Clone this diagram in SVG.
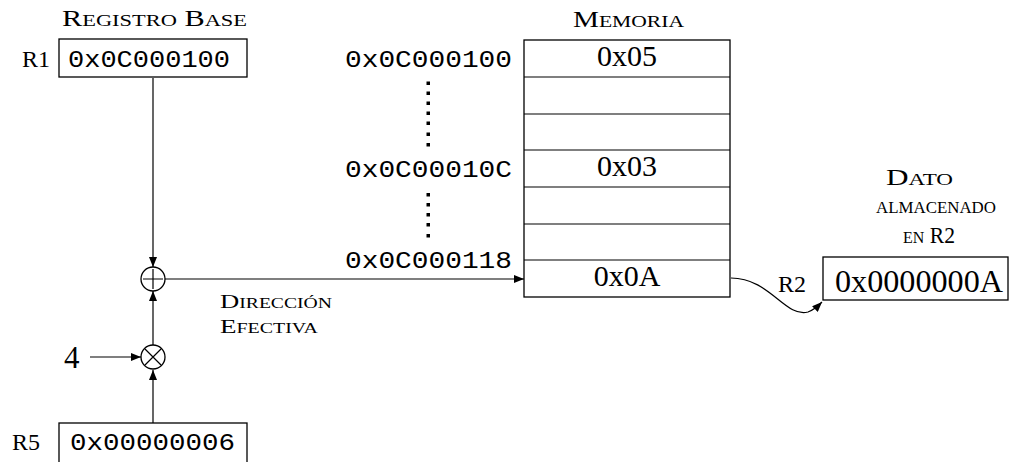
<svg xmlns="http://www.w3.org/2000/svg" width="1010" height="462" viewBox="0 0 1010 462">
<style>
.sc{font-family:"Liberation Serif",serif;fill:#000}
.rm{font-family:"Liberation Serif",serif;fill:#000}
.tt{font-family:"Liberation Mono",monospace;fill:#000}
.box{fill:#fff;stroke:#000;stroke-width:1.3}
.ln{fill:none;stroke:#000;stroke-width:1.2}
.dot{fill:#000}
.bg{font-size:23px}
.sm{font-size:17px}
.bg2{font-size:19px}
.sm2{font-size:14px}
</style>
<defs>
<marker id="ah" viewBox="0 0 10 8" refX="10" refY="4" markerWidth="10" markerHeight="8" markerUnits="userSpaceOnUse" orient="auto">
<path d="M0,0 L10,4 L0,8 Z" fill="#000"/>
</marker>
</defs>
<g id="connectors">
<line class="ln" x1="153" y1="78" x2="153" y2="267" marker-end="url(#ah)"/>
<line class="ln" x1="153" y1="345" x2="153" y2="291" marker-end="url(#ah)"/>
<line class="ln" x1="153" y1="423" x2="153" y2="370" marker-end="url(#ah)"/>
<line class="ln" x1="90" y1="357" x2="141" y2="357" marker-end="url(#ah)"/>
<line class="ln" x1="165" y1="279" x2="524" y2="279" marker-end="url(#ah)"/>
<path class="ln" d="M731,278 C770,278 785,318 808,312 C814,310 818,306 822,302" marker-end="url(#ah)"/>
</g>
<g id="r1">
<text class="sc" x="62" y="26" textLength="185" lengthAdjust="spacingAndGlyphs"><tspan class="bg">R</tspan><tspan class="sm">EGISTRO</tspan><tspan class="bg"> B</tspan><tspan class="sm">ASE</tspan></text>
<text class="rm" x="22" y="67" font-size="24">R1</text>
<rect class="box" x="59" y="39" width="188" height="38"/>
<text class="tt" x="68" y="67" font-size="24" textLength="162" lengthAdjust="spacingAndGlyphs">0x0C000100</text>
</g>
<g id="plus">
<circle class="box" cx="153" cy="279" r="12"/>
<path class="ln" d="M143,279 H163 M153,269 V289"/>
</g>
<g id="times">
<circle class="box" cx="153" cy="357" r="12"/>
<path class="ln" d="M145,349 L161,365 M161,349 L145,365"/>
</g>
<g id="four">
<text class="rm" x="64" y="368" font-size="31">4</text>
</g>
<g id="r5">
<text class="rm" x="12" y="450" font-size="24">R5</text>
<rect class="box" x="59" y="423" width="188" height="45"/>
<text class="tt" x="70" y="450" font-size="24" textLength="165" lengthAdjust="spacingAndGlyphs">0x00000006</text>
</g>
<g id="ea-label">
<text class="sc" x="220" y="308" textLength="112" lengthAdjust="spacingAndGlyphs"><tspan class="bg2">D</tspan><tspan class="sm2">IRECCIÓN</tspan></text>
<text class="sc" x="220" y="333" textLength="98" lengthAdjust="spacingAndGlyphs"><tspan class="bg2">E</tspan><tspan class="sm2">FECTIVA</tspan></text>
</g>
<g id="memory">
<text class="sc" x="573" y="27" textLength="111" lengthAdjust="spacingAndGlyphs"><tspan class="bg">M</tspan><tspan class="sm">EMORIA</tspan></text>
<rect class="box" x="524" y="40" width="206" height="257"/>
<path class="ln" d="M524,77 H730 M524,114 H730 M524,150 H730 M524,187 H730 M524,224 H730 M524,260 H730"/>
<text class="rm" x="627" y="66" font-size="30" text-anchor="middle">0x05</text>
<text class="rm" x="627" y="176" font-size="30" text-anchor="middle">0x03</text>
<text class="rm" x="627" y="286" font-size="30" text-anchor="middle">0x0A</text>
</g>
<g id="addresses">
<text class="tt" x="345" y="67" font-size="24" textLength="167" lengthAdjust="spacingAndGlyphs">0x0C000100</text>
<text class="tt" x="345" y="177" font-size="24" textLength="167" lengthAdjust="spacingAndGlyphs">0x0C00010C</text>
<text class="tt" x="345" y="268" font-size="24" textLength="167" lengthAdjust="spacingAndGlyphs">0x0C000118</text>
<g class="dot">
<rect x="426.5" y="81.5" width="3.5" height="3.5"/>
<rect x="426.5" y="91.5" width="3.5" height="3.5"/>
<rect x="426.5" y="101.5" width="3.5" height="3.5"/>
<rect x="426.5" y="111.5" width="3.5" height="3.5"/>
<rect x="426.5" y="121.5" width="3.5" height="3.5"/>
<rect x="426.5" y="132.5" width="3.5" height="3.5"/>
<rect x="426.5" y="143" width="3.5" height="3.5"/>
<rect x="426.5" y="193" width="3.5" height="3.5"/>
<rect x="426.5" y="203" width="3.5" height="3.5"/>
<rect x="426.5" y="213" width="3.5" height="3.5"/>
<rect x="426.5" y="223" width="3.5" height="3.5"/>
<rect x="426.5" y="234" width="3.5" height="3.5"/>
</g>
</g>
<g id="r2">
<text class="sc" x="886" y="185" textLength="67" lengthAdjust="spacingAndGlyphs"><tspan class="bg">D</tspan><tspan class="sm">ATO</tspan></text>
<text class="sc" x="876" y="213" textLength="120" lengthAdjust="spacingAndGlyphs"><tspan class="sm">ALMACENADO</tspan></text>
<text class="sc" x="903" y="243" textLength="52" lengthAdjust="spacingAndGlyphs"><tspan class="sm">EN</tspan><tspan class="bg"> R2</tspan></text>
<text class="rm" x="778" y="292" font-size="24">R2</text>
<rect class="box" x="823" y="257" width="185" height="43"/>
<text class="rm" x="835" y="292" font-size="31" textLength="168" lengthAdjust="spacingAndGlyphs">0x0000000A</text>
</g>
</svg>
